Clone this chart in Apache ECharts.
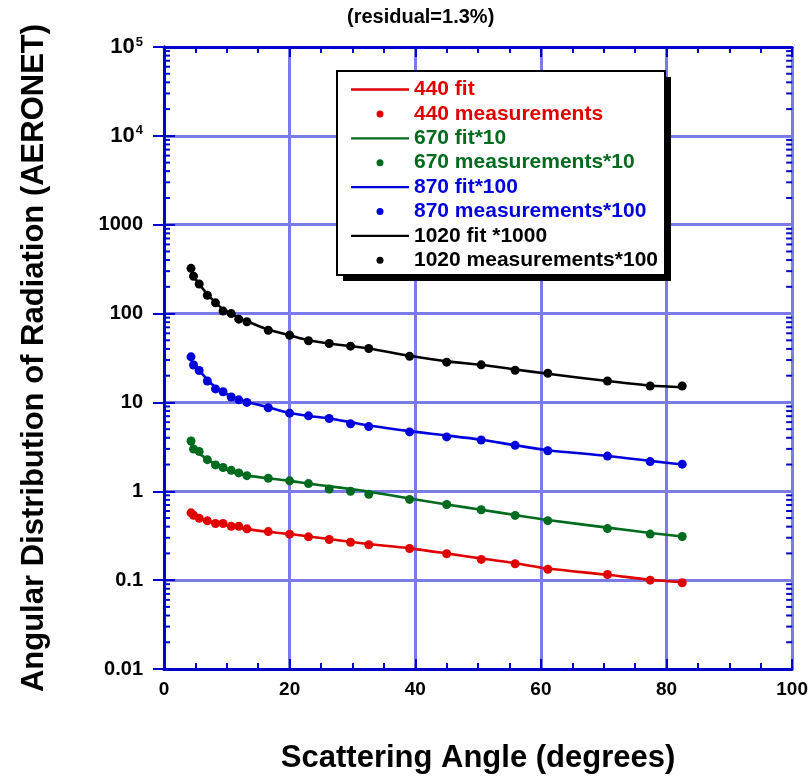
<!DOCTYPE html>
<html>
<head>
<meta charset="utf-8">
<script src="https://cdn.jsdelivr.net/npm/echarts@6/dist/echarts.min.js"></script>
<style>
  html, body { margin: 0; padding: 0; background: #fff; }
  #chart { width: 811px; height: 779px; }
</style>
</head>
<body>
<div id="chart"></div>
<script>
const angles = [4.3, 4.7, 5.6, 6.9, 8.2, 9.4, 10.7, 11.9, 13.2, 16.6, 20.0, 23.0, 26.3, 29.7, 32.6, 39.1, 45.0, 50.5, 55.9, 61.1, 70.6, 77.4, 82.5];

const meas440 = [0.572, 0.537, 0.497, 0.465, 0.434, 0.434, 0.404, 0.404, 0.378, 0.352, 0.329, 0.307, 0.287, 0.267, 0.25, 0.227, 0.198, 0.171, 0.153, 0.1325, 0.1157, 0.1, 0.0935];
const fit440 = [0.56, 0.53, 0.5, 0.465, 0.44, 0.42, 0.405, 0.39, 0.375, 0.35, 0.33, 0.31, 0.29, 0.27, 0.255, 0.228, 0.2, 0.175, 0.155, 0.135, 0.115, 0.101, 0.095];

const meas670 = [3.68, 2.99, 2.81, 2.27, 1.98, 1.85, 1.72, 1.61, 1.5, 1.4, 1.31, 1.22, 1.06, 1.0, 0.925, 0.81, 0.71, 0.62, 0.535, 0.467, 0.38, 0.33, 0.31];
const fit670 = [3.3, 2.95, 2.65, 2.3, 2.0, 1.82, 1.68, 1.58, 1.5, 1.4, 1.31, 1.22, 1.14, 1.06, 0.99, 0.83, 0.71, 0.62, 0.54, 0.475, 0.39, 0.34, 0.31];

const meas870 = [32.6, 26.4, 22.9, 17.4, 14.2, 13.2, 11.5, 10.7, 10.0, 8.7, 7.57, 7.06, 6.6, 5.74, 5.35, 4.66, 4.09, 3.78, 3.29, 2.86, 2.49, 2.16, 2.02];
const fit870 = [30.5, 26.5, 23, 18, 14.8, 13, 11.8, 10.8, 10.1, 8.8, 7.6, 7.05, 6.6, 6.0, 5.5, 4.75, 4.25, 3.8, 3.3, 2.9, 2.5, 2.2, 2.0];

const meas1020 = [323, 263, 215, 161, 132, 107, 100, 86.5, 81, 65, 57, 49.5, 46, 43, 40.5, 33, 28.4, 26.5, 23, 21.3, 17.4, 15.3, 15.3];
const fit1020 = [315, 265, 215, 165, 133, 112, 100, 89, 82, 66, 57, 50, 46, 43, 40.5, 33.5, 29, 26.5, 23.5, 21, 17.4, 15.5, 14.8];

const xTicks = [0, 20, 40, 60, 80, 100];
const yTickLabels = { '100000': '{b|10}{s|5}', '10000': '{b|10}{s|4}', '1000': '1000', '100': '100', '10': '10', '1': '1', '0.1': '0.1', '0.01': '0.01' };
// log minor tick positions: 2..9 in each decade
const minorDecades = [0.01, 0.1, 1, 10, 100, 1000, 10000];
const minorSteps = [2, 3, 4, 5, 6, 7, 8, 9];

const RED = '#e00000';
const GREEN = '#006a1e';
const BLUE = '#0000dd';
const BLACK = '#000000';
const AXIS = '#0000cc';
const GRID = '#7b7be8';
const FONT = 'Liberation Sans, Arial, sans-serif';
const LINE_ICON = 'path://M0,0H100V4H0Z';

const pair = (ys) => angles.map((a, i) => [a, ys[i]]);

const minorVals = [];
minorDecades.forEach((d) => minorSteps.forEach((s) => minorVals.push([0, +(s * d).toPrecision(3)])));

const fitSeries = (name, ys, color) => ({
  name,
  type: 'line',
  data: pair(ys),
  symbol: 'none',
  smooth: 0.3,
  lineStyle: { color, width: 2.6 },
  itemStyle: { color },
  z: 3,
});

const measSeries = (name, ys, color) => ({
  name,
  type: 'scatter',
  data: pair(ys),
  symbol: 'circle',
  symbolSize: 9,
  itemStyle: { color, opacity: 1 },
  z: 4,
});

const chart = echarts.init(document.getElementById('chart'));

const option = {
  backgroundColor: '#fff',
  animation: false,
  title: {
    text: '(residual=1.3%)',
    left: 342,
    top: 2,
    textStyle: { fontFamily: FONT, fontWeight: 'bold', fontSize: 20, color: '#000' },
  },
  grid: { left: 164, right: 17, top: 47, bottom: 110 },
  // legend frame with its hard shadow
  graphic: [
    { type: 'rect', z: 10, shape: { x: 343, y: 77, width: 328, height: 204 }, style: { fill: '#000' } },
    { type: 'rect', z: 10, shape: { x: 337, y: 71, width: 328, height: 204 }, style: { fill: '#fff', stroke: '#000', lineWidth: 2 } },
  ],
  legend: {
    orient: 'vertical',
    left: 337,
    top: 71,
    z: 12,
    padding: [8, 4, 8, 14],
    itemWidth: 58,
    itemHeight: 7,
    itemGap: 3.4,
    symbolKeepAspect: true,
    textStyle: { fontFamily: FONT, fontWeight: 'bold', fontSize: 21 },
    data: [
      { name: '440 fit', icon: LINE_ICON, textStyle: { color: RED } },
      { name: '440 measurements', icon: 'circle', textStyle: { color: RED } },
      { name: '670 fit*10', icon: LINE_ICON, textStyle: { color: GREEN } },
      { name: '670 measurements*10', icon: 'circle', textStyle: { color: GREEN } },
      { name: '870 fit*100', icon: LINE_ICON, textStyle: { color: BLUE } },
      { name: '870 measurements*100', icon: 'circle', textStyle: { color: BLUE } },
      { name: '1020 fit *1000', icon: LINE_ICON, textStyle: { color: BLACK } },
      { name: '1020 measurements*100', icon: 'circle', textStyle: { color: BLACK } },
    ],
  },
  xAxis: [
    {
      type: 'value',
      min: 0,
      max: 100,
      interval: 20,
      name: 'Scattering Angle (degrees)',
      nameLocation: 'middle',
      nameGap: 74,
      nameTextStyle: { fontFamily: FONT, fontWeight: 'bold', fontSize: 31, color: '#000' },
      axisLine: { show: true, lineStyle: { color: AXIS, width: 3 } },
      axisTick: { show: true, inside: true, length: 10, lineStyle: { color: AXIS, width: 2 } },
      minorTick: { show: true, splitNumber: 4, length: 6, lineStyle: { color: AXIS, width: 2 } },
      axisLabel: {
        margin: 11,
        fontFamily: FONT, fontWeight: 'bold', fontSize: 19, color: '#000',
        formatter: (v) => (xTicks.includes(v) ? String(v) : ''),
      },
      splitLine: { show: true, lineStyle: { color: GRID, width: 3 } },
    },
    {
      type: 'value',
      position: 'top',
      min: 0,
      max: 100,
      interval: 20,
      axisLine: { show: true, lineStyle: { color: AXIS, width: 3 } },
      axisTick: { show: true, inside: true, length: 10, lineStyle: { color: AXIS, width: 2 } },
      minorTick: { show: true, splitNumber: 4, length: 6, lineStyle: { color: AXIS, width: 2 } },
      axisLabel: { show: false },
      splitLine: { show: false },
    },
  ],
  yAxis: [
    {
      type: 'log',
      logBase: 10,
      min: 0.01,
      max: 100000,
      name: 'Angular Distribution of Radiation (AERONET)',
      nameLocation: 'middle',
      nameGap: 114,
      nameTextStyle: { fontFamily: FONT, fontWeight: 'bold', fontSize: 31, color: '#000' },
      axisLine: { show: true, lineStyle: { color: AXIS, width: 3 } },
      axisTick: { show: true, inside: true, length: 11, lineStyle: { color: AXIS, width: 2 } },
      axisLabel: {
        margin: 21,
        fontFamily: FONT, fontWeight: 'bold', fontSize: 20, color: '#000',
        formatter: (v) => yTickLabels[String(+v.toPrecision(3))] || '',
        rich: {
          b: { fontFamily: FONT, fontWeight: 'bold', fontSize: 22, color: '#000' },
          s: { fontFamily: FONT, fontWeight: 'bold', fontSize: 13, color: '#000', verticalAlign: 'top', padding: [0, 0, 10, 1] },
        },
      },
      splitLine: { show: true, lineStyle: { color: GRID, width: 3 } },
    },
    {
      type: 'log',
      logBase: 10,
      min: 0.01,
      max: 100000,
      position: 'right',
      axisLine: { show: true, lineStyle: { color: AXIS, width: 3 } },
      axisTick: { show: true, inside: true, length: 11, lineStyle: { color: AXIS, width: 2 } },
      axisLabel: { show: false },
      splitLine: { show: false },
    },
  ],
  series: [
    {
      name: 'minor ticks',
      type: 'custom',
      silent: true,
      data: minorVals,
      z: 5,
      renderItem: (params, api) => {
        const left = api.coord([0, api.value(1)]);
        const right = api.coord([100, api.value(1)]);
        const style = { stroke: AXIS, lineWidth: 2 };
        return {
          type: 'group',
          children: [
            { type: 'line', shape: { x1: left[0], y1: left[1], x2: left[0] + 6, y2: left[1] }, style },
            { type: 'line', shape: { x1: right[0], y1: right[1], x2: right[0] - 6, y2: right[1] }, style },
          ],
        };
      },
    },
    fitSeries('440 fit', fit440, RED),
    measSeries('440 measurements', meas440, RED),
    fitSeries('670 fit*10', fit670, GREEN),
    measSeries('670 measurements*10', meas670, GREEN),
    fitSeries('870 fit*100', fit870, BLUE),
    measSeries('870 measurements*100', meas870, BLUE),
    fitSeries('1020 fit *1000', fit1020, BLACK),
    measSeries('1020 measurements*100', meas1020, BLACK),
  ],
};

chart.setOption(option);
</script>
</body>
</html>
